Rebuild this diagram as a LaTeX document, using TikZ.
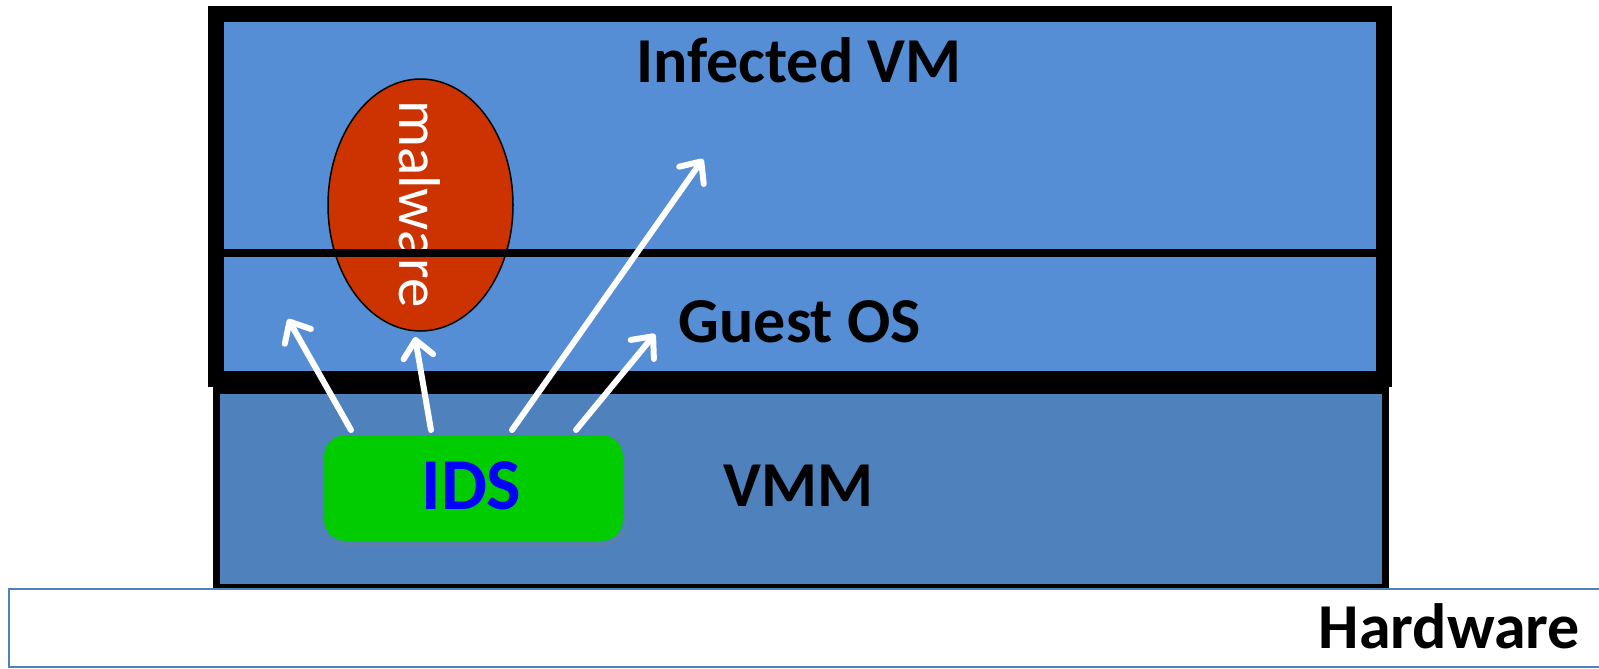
\documentclass[tikz,border=0pt]{standalone}
\usepackage{fontspec}
\setmainfont{Carlito}
\usetikzlibrary{arrows.meta,shapes.geometric,shadows}
\definecolor{vmblue}{RGB}{85,142,213}
\definecolor{vmmblue}{RGB}{79,129,189}
\definecolor{malred}{RGB}{204,51,0}
\definecolor{idsgreen}{RGB}{0,204,0}
\definecolor{idsblue}{RGB}{0,0,255}
\tikzset{
  layer/.style={draw=black, inner sep=0pt, outer sep=0pt},
  biglabel/.style={font=\bfseries\fontsize{64}{70}\selectfont, inner sep=0pt, anchor=base},
  probe/.style={draw=white, line width=6pt, line cap=round,
    -{Straight Barb[length=17pt,width=30pt,round]}},
}
\begin{document}
\begin{tikzpicture}[x=1pt,y=-1pt]
\useasboundingbox (0,0) rectangle (1599,669);
% VMM layer
\node[layer, fill=vmmblue, line width=7pt, minimum width=1169pt, minimum height=197.5pt] (vmm) at (801,488.75) {};
% Hardware
\node[draw=vmmblue, fill=white, line width=2.5pt, inner sep=0pt, minimum width=1611pt, minimum height=78pt] (hw) at (814.5,628) {};
\node[biglabel, anchor=base east] (hwlabel) at (1580,648) {Hardware};
% Infected VM frame
\node[layer, fill=vmblue, line width=16pt, minimum width=1168pt, minimum height=365pt] (vm) at (800,196.5) {};
% malware
\node[ellipse, draw=black, line width=1.5pt, fill=malred, minimum width=185pt, minimum height=252pt, inner sep=0pt] (mal) at (420.5,205) {};
\node[text=white, rotate=-90, font=\fontsize{59}{60}\selectfont, inner sep=0pt] (maltext) at (420,204) {malware};
% guest OS separator
\coordinate (sepl) at (224,253);
\coordinate (sepr) at (1376,253);
\draw[line width=8pt] (sepl) -- (sepr);
% labels
\node[biglabel] (vmlabel) at (799,82) {Infected VM};
\node[biglabel] (oslabel) at (800,342) {Guest OS};
\node[biglabel] (vmmlabel) at (798.5,506) {VMM};
% IDS
\node[draw=vmmblue, line width=2pt, fill=idsgreen, rounded corners=22pt, minimum width=301pt, minimum height=108pt, inner sep=0pt,
  drop shadow={shadow xshift=2pt, shadow yshift=-3pt, opacity=0.35}] (ids) at (473.5,488) {};
\node[font=\bfseries\fontsize{73}{80}\selectfont, text=idsblue, inner sep=0pt, anchor=base] (idslabel) at (471.5,509) {IDS};
% arrows
\coordinate (t1) at (288,319);
\coordinate (t2) at (415,337);
\coordinate (t3) at (703,159);
\coordinate (t4) at (655,334);
\draw[probe] ([xshift=29pt,yshift=3pt]ids.north west) -- (t1);
\draw[probe] ([xshift=109pt,yshift=3pt]ids.north west) -- (t2);
\draw[probe] ([xshift=190pt,yshift=3pt]ids.north west) -- (t3);
\draw[probe] ([xshift=254pt,yshift=3pt]ids.north west) -- (t4);
\end{tikzpicture}
\end{document}
